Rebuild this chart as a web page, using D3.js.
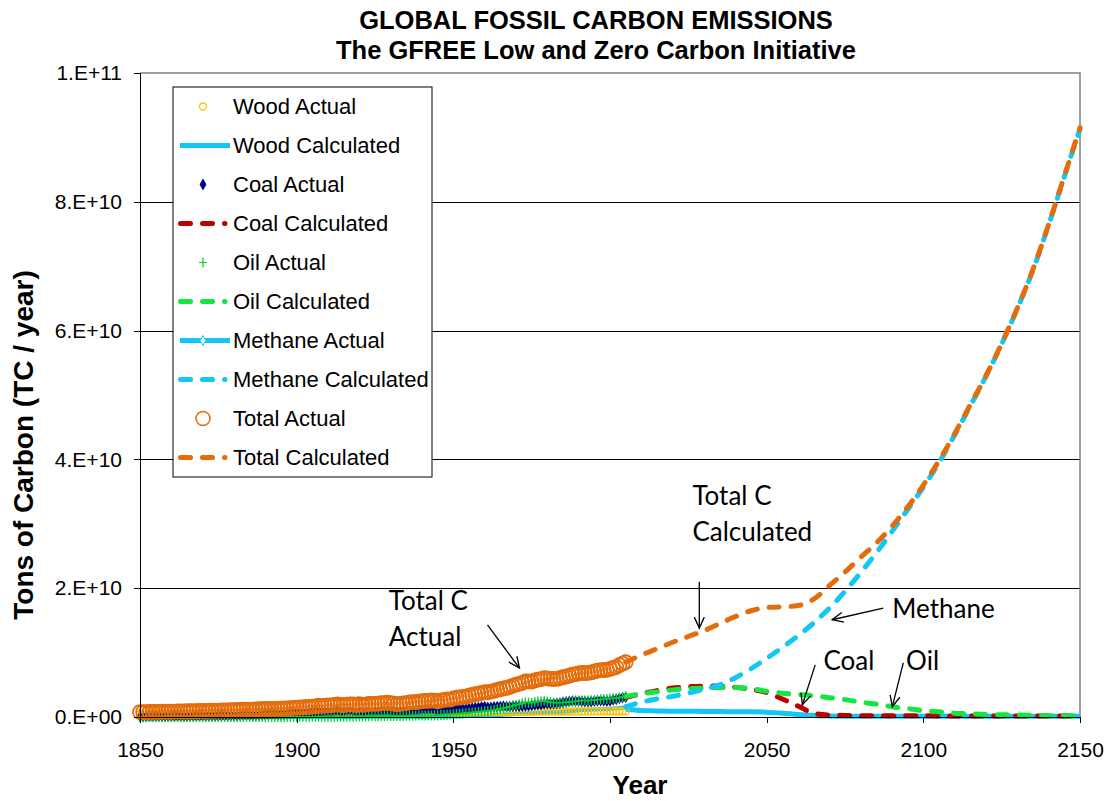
<!DOCTYPE html>
<html>
  <head>
    <title>Global fossil carbon emissions</title>
    <meta http-equiv="Content-Type" content="text/html; charset=utf-8">
    <style type="text/css">
      body { margin: 0; background: #fff; }
      svg text { font-family: "Liberation Sans", Arial, sans-serif; fill: #000; }
      .axis path, .axis line { stroke: #000; stroke-width: 1; shape-rendering: crispEdges; }
      .axis text { font-size: 21px; }
      .grid line { stroke: #000; stroke-width: 1; shape-rendering: crispEdges; }
      .grid path { display: none; }
      path.calc { fill: none; stroke-width: 5; stroke-linecap: round; stroke-dasharray: 10, 12; }
      text.note { font-family: Lato, "Open Sans", sans-serif; font-size: 26px; }
    </style>
  </head>
  <body>
    <div id="main"></div>

    <script src="https://d3js.org/d3.v7.min.js"></script>
    <script>
    // values in billions of tons of carbon per year (1e9 TC)
    var actualYears = d3.range(1850, 2006);
    var calcYears = d3.range(2005, 2151, 5);

    var woodActual = [
      .50, .50, .51, .51, .51, .52, .52, .52, .53, .53,
      .53, .54, .54, .54, .55, .55, .55, .56, .56, .56,
      .57, .57, .57, .58, .58, .58, .59, .59, .59, .60,
      .60, .60, .61, .61, .61, .62, .62, .62, .62, .63,
      .63, .63, .63, .64, .64, .64, .64, .65, .65, .65,
      .65, .66, .66, .66, .66, .67, .67, .67, .67, .68,
      .68, .68, .68, .68, .69, .69, .69, .69, .69, .70,
      .70, .70, .70, .70, .71, .71, .71, .71, .71, .72,
      .72, .72, .72, .72, .73, .73, .73, .73, .73, .74,
      .74, .74, .74, .74, .75, .75, .75, .75, .75, .76,
      .76, .76, .76, .77, .77, .77, .77, .78, .78, .78,
      .78, .79, .79, .79, .79, .80, .80, .80, .80, .81,
      .81, .81, .81, .82, .82, .82, .82, .83, .83, .83,
      .83, .84, .84, .84, .84, .85, .85, .85, .85, .86,
      .86, .86, .86, .87, .87, .87, .87, .88, .88, .88,
      .88, .89, .89, .89, .89, .90
    ];
    var coalActual = [
      .05, .06, .06, .07, .07, .07, .08, .08, .08, .09,
      .09, .09, .10, .10, .11, .11, .12, .12, .13, .13,
      .14, .15, .16, .17, .16, .18, .18, .19, .19, .20,
      .22, .23, .24, .25, .26, .26, .27, .28, .30, .31,
      .34, .35, .36, .36, .37, .39, .41, .43, .46, .50,
      .55, .57, .59, .64, .65, .67, .72, .80, .77, .79,
      .83, .84, .88, .95, .85, .84, .90, .94, .91, .80,
      .91, .78, .80, .91, .89, .89, .88, .95, .94, .98,
      .92, .84, .74, .78, .84, .88, .95, 1.00, .96, 1.02,
      1.08, 1.09, 1.12, 1.14, 1.09, .94, 1.00, 1.08, 1.12, 1.06,
      1.18, 1.24, 1.22, 1.25, 1.25, 1.33, 1.39, 1.44, 1.51, 1.57,
      1.62, 1.49, 1.50, 1.56, 1.61, 1.62, 1.66, 1.61, 1.62, 1.67,
      1.69, 1.67, 1.69, 1.74, 1.74, 1.82, 1.87, 1.91, 1.94, 2.04,
      2.08, 2.05, 2.08, 2.10, 2.17, 2.28, 2.34, 2.42, 2.47, 2.46,
      2.47, 2.42, 2.38, 2.38, 2.40, 2.47, 2.52, 2.54, 2.52, 2.46,
      2.52, 2.66, 2.75, 2.90, 3.00, 3.05
    ];
    var oilActual = [
      0, 0, 0, 0, 0, 0, 0, 0, 0, 0,
      0, 0, 0, 0, 0, 0, 0, 0, 0, 0,
      0, 0, 0, 0, 0, 0, 0, 0, 0, 0,
      0, 0, .01, .01, .01, .01, .01, .01, .01, .01,
      .01, .01, .01, .01, .01, .01, .01, .01, .01, .02,
      .02, .02, .02, .02, .02, .02, .02, .03, .03, .03,
      .04, .04, .05, .05, .05, .05, .06, .07, .07, .07,
      .09, .09, .10, .12, .12, .13, .13, .15, .16, .18,
      .17, .16, .15, .16, .17, .18, .19, .21, .21, .22,
      .23, .24, .23, .24, .25, .24, .30, .32, .36, .37,
      .43, .48, .52, .55, .58, .64, .69, .73, .76, .81,
      .88, .95, 1.02, 1.10, 1.19, 1.28, 1.38, 1.47, 1.60, 1.73,
      1.87, 1.97, 2.09, 2.26, 2.22, 2.18, 2.31, 2.39, 2.42, 2.51,
      2.39, 2.29, 2.22, 2.20, 2.22, 2.22, 2.30, 2.32, 2.40, 2.44,
      2.50, 2.57, 2.55, 2.55, 2.59, 2.62, 2.68, 2.75, 2.77, 2.81,
      2.86, 2.92, 2.93, 3.00, 3.12, 3.20
    ];
    var methaneActual = [
      0, 0, 0, 0, 0, 0, 0, 0, 0, 0,
      0, 0, 0, 0, 0, 0, 0, 0, 0, 0,
      0, 0, 0, 0, 0, 0, 0, 0, 0, 0,
      0, 0, 0, 0, 0, .01, .01, .01, .01, .01,
      .01, .01, .01, .01, .01, .01, .01, .01, .01, .01,
      .01, .01, .01, .01, .01, .01, .01, .01, .01, .01,
      .01, .01, .01, .01, .01, .01, .01, .01, .01, .01,
      .01, .01, .02, .02, .02, .02, .02, .03, .03, .04,
      .04, .03, .03, .03, .03, .04, .04, .04, .04, .04,
      .04, .05, .05, .06, .06, .06, .06, .07, .08, .08,
      .10, .11, .12, .13, .13, .15, .16, .17, .18, .20,
      .23, .24, .26, .28, .30, .32, .34, .37, .40, .44,
      .49, .52, .56, .58, .59, .60, .63, .65, .67, .71,
      .73, .74, .74, .74, .79, .82, .84, .87, .92, .97,
      1.03, 1.07, 1.09, 1.11, 1.12, 1.15, 1.20, 1.19, 1.22, 1.25,
      1.29, 1.31, 1.34, 1.38, 1.42, 1.48
    ];
    var totalActual = [
      .75, .76, .77, .78, .79, .80, .81, .82, .82, .83,
      .84, .85, .86, .87, .88, .89, .90, .91, .92, .93,
      .95, .96, .98, .99, .98, 1.00, 1.01, 1.02, 1.03, 1.05,
      1.08, 1.09, 1.11, 1.13, 1.14, 1.14, 1.15, 1.17, 1.20, 1.21,
      1.25, 1.27, 1.27, 1.27, 1.28, 1.31, 1.32, 1.34, 1.37, 1.41,
      1.46, 1.48, 1.50, 1.56, 1.58, 1.61, 1.66, 1.75, 1.72, 1.76,
      1.80, 1.82, 1.87, 1.95, 1.86, 1.85, 1.92, 1.97, 1.95, 1.85,
      1.98, 1.87, 1.92, 2.04, 2.03, 2.05, 2.06, 2.14, 2.14, 2.22,
      2.16, 2.07, 1.98, 2.03, 2.11, 2.16, 2.25, 2.32, 2.29, 2.37,
      2.45, 2.49, 2.51, 2.56, 2.54, 2.41, 2.53, 2.64, 2.72, 2.70,
      2.90, 3.02, 3.06, 3.13, 3.17, 3.31, 3.44, 3.53, 3.63, 3.75,
      3.85, 3.84, 3.94, 4.06, 4.20, 4.31, 4.44, 4.52, 4.67, 4.85,
      5.04, 5.14, 5.30, 5.51, 5.51, 5.50, 5.68, 5.80, 5.88, 6.05,
      6.00, 5.93, 5.90, 5.91, 6.03, 6.17, 6.28, 6.41, 6.57, 6.66,
      6.76, 6.83, 6.80, 6.84, 6.92, 7.04, 7.19, 7.28, 7.30, 7.33,
      7.48, 7.62, 7.76, 8.05, 8.30, 8.50
    ];

    // 2005 .. 2150, every 5 years
    var woodCalc = [1.2, 1.0, .95, .9, .9, .85, .85, .8, .8, .75, .6, .4, .25, .15, .12,
      .1, .1, .1, .1, .1, .1, .1, .1, .1, .1, .1, .1, .1, .1, .1];
    var coalCalc = [3.05, 3.6, 4.1, 4.5, 4.7, 4.8, 4.8, 4.6, 4.3, 3.8, 2.8, 1.7, .6, .3, .25,
      .2, .2, .2, .18, .18, .17, .17, .16, .16, .15, .15, .15, .14, .14, .14];
    var oilCalc = [3.2, 3.6, 3.9, 4.2, 4.4, 4.5, 4.6, 4.6, 4.4, 4.0, 3.7, 3.5, 3.3, 3.0, 2.7,
      2.3, 2.0, 1.6, 1.3, 1.0, .8, .6, .5, .4, .35, .3, .25, .2, .2, .15];
    var methaneCalc = [1.6, 2.3, 2.8, 3.2, 3.7, 4.3, 5.0, 6.1, 7.5, 9.1, 10.8, 12.6, 14.6, 16.9, 19.5,
      22.4, 25.5, 28.8, 32.2, 35.7, 39.5, 43.8, 48.3, 52.9, 57.9, 63.4, 69.4, 76.4, 83.9, 91.3];
    var totalCalc = [8.5, 9.6, 10.6, 11.6, 12.5, 13.4, 14.5, 15.6, 16.5, 17.0, 17.1, 17.3, 18.3, 20.4, 22.5,
      24.8, 27.0, 29.6, 32.6, 36.0, 39.8, 44.0, 48.5, 53.0, 58.0, 63.5, 69.5, 76.5, 84.0, 91.5];

    var yearTicks = [1850, 1900, 1950, 2000, 2050, 2100, 2150];
    var valueTicks = [0, 20, 40, 60, 80, 100];

    var legendNames = ["Wood Actual", "Wood Calculated", "Coal Actual", "Coal Calculated", "Oil Actual",
      "Oil Calculated", "Methane Actual", "Methane Calculated", "Total Actual", "Total Calculated"];

    // annotations: text lines anchored at [year, value], arrows from -> to
    var noteTexts = [
      {lines: ["Total C", "Actual"], at: [1929.4, 16.6]},
      {lines: ["Total C", "Calculated"], at: [2026.3, 32.9]},
      {lines: ["Methane"], at: [2090.1, 15.4]},
      {lines: ["Coal"], at: [2068.1, 7.3]},
      {lines: ["Oil"], at: [2094.5, 7.3]}
    ];
    var noteArrows = [
      {from: [1960.9, 14.3], to: [1971.1, 7.6]},
      {from: [2028.5, 21.0], to: [2028.5, 13.8]},
      {from: [2087.2, 16.9], to: [2070.9, 15.1]},
      {from: [2065.5, 8.1], to: [2061.4, 1.9]},
      {from: [2093.6, 8.4], to: [2090.1, 1.6]}
    ];

    var colors = {
      wood: "#FFC000",
      lightBlue: "#12C6F6",
      coal: "#000080",
      coalCalc: "#C00000",
      oil: "#00D42A",
      oilCalc: "#14E640",
      total: "#E46C0A"
    };

    document.addEventListener("DOMContentLoaded", init);
    function init() {
      var width = 1111, height = 801;
      var svg = d3.select("#main").append("svg")
          .attr("width", width)
          .attr("height", height);

      var x = d3.scaleLinear().domain([1850, 2150]).range([140, 1080]);
      var y = d3.scaleLinear().domain([0, 100]).range([717, 73]);

      function fmt(v) {
        if (v === 0) return "0.E+00";
        var s = (v * 1e9).toExponential(0).split("e+");
        return s[0] + ".E+" + s[1];
      }

      // gridlines
      svg.append("g")
          .attr("class", "grid")
          .attr("transform", "translate(" + x(1850) + ",0)")
          .call(d3.axisLeft(y).tickValues(valueTicks.slice(1, -1))
              .tickSize(-(x(2150) - x(1850))).tickFormat(""));

      // top and right border
      svg.append("path")
          .attr("d", "M" + x(1850) + "," + y(100) + "H" + x(2150) + "V" + y(0))
          .attr("fill", "none")
          .attr("stroke", "#808080")
          .attr("stroke-width", 1.5);

      function pairs(years, vals) {
        return years.map(function(yr, i) { return [yr, vals[i]]; });
      }

      var smooth = d3.line()
          .x(function(d) { return x(d[0]); })
          .y(function(d) { return y(d[1]); })
          .curve(d3.curveMonotoneX);
      var straight = d3.line()
          .x(function(d) { return x(d[0]); })
          .y(function(d) { return y(d[1]); });

      var plot = svg.append("g");

      // Wood calculated (solid)
      plot.append("path")
          .attr("d", smooth(pairs(calcYears, woodCalc)))
          .attr("fill", "none")
          .attr("stroke", colors.lightBlue)
          .attr("stroke-width", 5);

      // Methane actual (solid line)
      plot.append("path")
          .attr("d", straight(pairs(actualYears, methaneActual)))
          .attr("fill", "none")
          .attr("stroke", colors.lightBlue)
          .attr("stroke-width", 4);

      // Wood actual
      plot.append("g").selectAll("circle")
          .data(pairs(actualYears, woodActual))
        .enter().append("circle")
          .attr("cx", function(d) { return x(d[0]); })
          .attr("cy", function(d) { return y(d[1]); })
          .attr("r", 3.5)
          .attr("fill", "none")
          .attr("stroke", colors.wood)
          .attr("stroke-width", 1.3);

      // Coal actual
      var diamond = d3.symbol().type(d3.symbolDiamond).size(40);
      plot.append("g").selectAll("path")
          .data(pairs(actualYears, coalActual))
        .enter().append("path")
          .attr("transform", function(d) { return "translate(" + x(d[0]) + "," + y(d[1]) + ")"; })
          .attr("d", diamond())
          .attr("fill", colors.coal);

      // Oil actual
      plot.append("g").selectAll("path")
          .data(pairs(actualYears, oilActual))
        .enter().append("path")
          .attr("transform", function(d) { return "translate(" + x(d[0]) + "," + y(d[1]) + ")"; })
          .attr("d", "M-4,0H4M0,-5V5")
          .attr("stroke", colors.oil)
          .attr("stroke-width", 1.3);

      // calculated dashed lines
      [[coalCalc, colors.coalCalc], [oilCalc, colors.oilCalc], [methaneCalc, colors.lightBlue]]
        .forEach(function(s) {
          plot.append("path")
              .attr("class", "calc")
              .attr("stroke", s[1])
              .attr("d", smooth(pairs(calcYears, s[0])));
        });

      // Total actual
      plot.append("g").selectAll("circle")
          .data(pairs(actualYears, totalActual))
        .enter().append("circle")
          .attr("cx", function(d) { return x(d[0]); })
          .attr("cy", function(d) { return y(d[1]); })
          .attr("r", 7)
          .attr("fill", "none")
          .attr("stroke", colors.total)
          .attr("stroke-width", 1.8);

      plot.append("path")
          .attr("class", "calc")
          .attr("stroke", colors.total)
          .attr("d", smooth(pairs(calcYears, totalCalc)));

      // axes
      svg.append("g")
          .attr("class", "axis")
          .attr("transform", "translate(0," + y(0) + ")")
          .call(d3.axisBottom(x).tickValues(yearTicks).tickFormat(d3.format("d"))
              .tickSize(6).tickPadding(19));
      svg.append("g")
          .attr("class", "axis")
          .attr("transform", "translate(" + x(1850) + ",0)")
          .call(d3.axisLeft(y).tickValues(valueTicks).tickFormat(fmt)
              .tickSize(6).tickPadding(12));

      // titles
      svg.append("text")
          .attr("x", 596).attr("y", 29)
          .attr("text-anchor", "middle")
          .style("font-size", "25.5px").style("font-weight", "bold")
          .text("GLOBAL FOSSIL CARBON EMISSIONS");
      svg.append("text")
          .attr("x", 596).attr("y", 59)
          .attr("text-anchor", "middle")
          .style("font-size", "25.5px").style("font-weight", "bold")
          .text("The GFREE Low and Zero Carbon Initiative");
      svg.append("text")
          .attr("x", 640).attr("y", 794)
          .attr("text-anchor", "middle")
          .style("font-size", "26px").style("font-weight", "bold")
          .text("Year");
      svg.append("text")
          .attr("transform", "translate(33,445) rotate(-90)")
          .attr("text-anchor", "middle")
          .style("font-size", "28px").style("font-weight", "bold")
          .text("Tons of Carbon (TC / year)");

      // annotations
      var defs = svg.append("defs");
      defs.append("marker")
          .attr("id", "arrow")
          .attr("viewBox", "-12 -6 14 12")
          .attr("markerWidth", 14).attr("markerHeight", 12)
          .attr("markerUnits", "userSpaceOnUse")
          .attr("orient", "auto")
        .append("path")
          .attr("d", "M-11,-5L0,0L-11,5")
          .attr("fill", "none")
          .attr("stroke", "#000")
          .attr("stroke-width", 1.3);

      noteArrows.forEach(function(a) {
        svg.append("line")
            .attr("x1", x(a.from[0])).attr("y1", y(a.from[1]))
            .attr("x2", x(a.to[0])).attr("y2", y(a.to[1]))
            .attr("stroke", "#000")
            .attr("stroke-width", 1.3)
            .attr("marker-end", "url(#arrow)");
      });
      noteTexts.forEach(function(n) {
        var t = svg.append("text")
            .attr("class", "note")
            .attr("x", x(n.at[0])).attr("y", y(n.at[1]));
        n.lines.forEach(function(line, i) {
          t.append("tspan")
              .attr("x", x(n.at[0]))
              .attr("dy", i === 0 ? 0 : 36)
              .text(line);
        });
      });

      // legend
      var legend = svg.append("g").attr("transform", "translate(173,87)");
      legend.append("rect")
          .attr("width", 259).attr("height", 390)
          .attr("fill", "#fff")
          .attr("stroke", "#000")
          .attr("stroke-width", 1);

      var items = legend.selectAll("g.item")
          .data(legendNames)
        .enter().append("g")
          .attr("class", "item")
          .attr("transform", function(d, i) { return "translate(0," + (19.5 + i * 39) + ")"; });

      items.append("text")
          .attr("x", 60).attr("dy", "0.35em")
          .style("font-size", "22px")
          .text(function(d) { return d; });

      items.each(function(d) {
        var g = d3.select(this);
        if (d === "Wood Actual") {
          g.append("circle").attr("cx", 30).attr("r", 3.5)
              .attr("fill", "none").attr("stroke", colors.wood).attr("stroke-width", 1.3);
        } else if (d === "Coal Actual") {
          g.append("path").attr("transform", "translate(30,0)").attr("d", diamond()).attr("fill", colors.coal);
        } else if (d === "Oil Actual") {
          g.append("path").attr("transform", "translate(30,0)").attr("d", "M-4,0H4M0,-5V5")
              .attr("stroke", colors.oil).attr("stroke-width", 1.2);
        } else if (d === "Total Actual") {
          g.append("circle").attr("cx", 30).attr("r", 7)
              .attr("fill", "none").attr("stroke", colors.total).attr("stroke-width", 1.5);
        } else if (d === "Wood Calculated" || d === "Methane Actual") {
          g.append("line").attr("x1", 7).attr("x2", 57)
              .attr("stroke", colors.lightBlue).attr("stroke-width", 5);
          if (d === "Methane Actual") {
            g.append("path").attr("transform", "translate(30,0)")
                .attr("d", d3.symbol().type(d3.symbolDiamond).size(28)())
                .attr("fill", "#fff").attr("stroke", colors.lightBlue).attr("stroke-width", 1);
          }
        } else {
          var c = d.indexOf("Coal") === 0 ? colors.coalCalc :
                  d.indexOf("Oil") === 0 ? colors.oilCalc :
                  d.indexOf("Methane") === 0 ? colors.lightBlue : colors.total;
          g.append("line").attr("x1", 7.5).attr("x2", 52)
              .attr("fill", "none")
              .attr("stroke", c)
              .attr("stroke-width", 5)
              .attr("stroke-linecap", "round")
              .attr("stroke-dasharray", "10,12");
        }
      });
    }
    </script>
  </body>
</html>
